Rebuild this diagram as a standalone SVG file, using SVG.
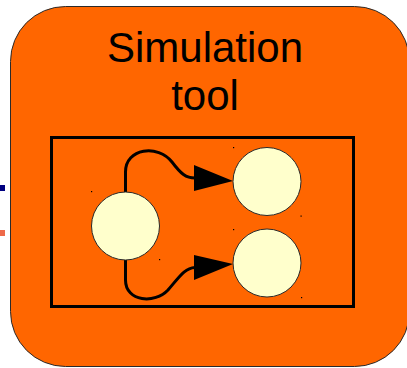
<svg xmlns="http://www.w3.org/2000/svg" width="407" height="368" viewBox="0 0 407 368">
  <style>
    .panel { fill: #ff6600; stroke: #2a2a2a; stroke-width: 1; }
    .frame { fill: none; stroke: #000; stroke-width: 3; }
    .state { fill: #ffffcc; stroke: #2a2a2a; stroke-width: 1; }
    .title { font-family: "Liberation Sans", Arial, sans-serif; font-size: 42px; fill: #000; text-anchor: middle; }
    .edge { fill: none; stroke: #000; stroke-width: 3; }
    .head { fill: #000; stroke: none; }
    .dot { fill: #000; }
  </style>

  <!-- fragments of neighbouring content at the left border -->
  <rect x="0" y="185" width="5" height="6" fill="#000080"/>
  <rect x="0" y="230" width="5" height="6" fill="#ee6a4a"/>

  <g id="simulation-tool">
    <rect class="panel" x="10.5" y="6.5" width="399" height="360" rx="55" ry="55"/>
    <text class="title" x="205" y="62">Simulation</text>
    <text class="title" x="205" y="110">tool</text>
    <rect class="frame" x="51.5" y="137.5" width="302" height="169"/>
  </g>

  <g id="connectors">
    <path class="edge" d="M125.5,192 L125.5,172 C125.5,148 158,144 172,162 C181,174 186,178 195,178"/>
    <polygon class="head" points="194,165 233,181 194,191"/>
    <path class="edge" d="M125.5,260 L125.5,280 C125.5,302 155,304 168,290 C180,276 185,268 195,267.5"/>
    <polygon class="head" points="194,255 233,264 194,280"/>
  </g>

  <g id="source">
    <circle class="state" cx="125.5" cy="226" r="34"/>
    <rect class="dot" x="91" y="191" width="1.2" height="1.2"/>
    <rect class="dot" x="159" y="259" width="1.2" height="1.2"/>
  </g>

  <g id="target-upper">
    <circle class="state" cx="267" cy="181.5" r="34"/>
    <rect class="dot" x="233" y="147" width="1.2" height="1.2"/>
    <rect class="dot" x="300.5" y="215.5" width="1.2" height="1.2"/>
  </g>

  <g id="target-lower">
    <circle class="state" cx="267" cy="263" r="34"/>
    <rect class="dot" x="233" y="229" width="1.2" height="1.2"/>
    <rect class="dot" x="301" y="297" width="1.2" height="1.2"/>
  </g>
</svg>
